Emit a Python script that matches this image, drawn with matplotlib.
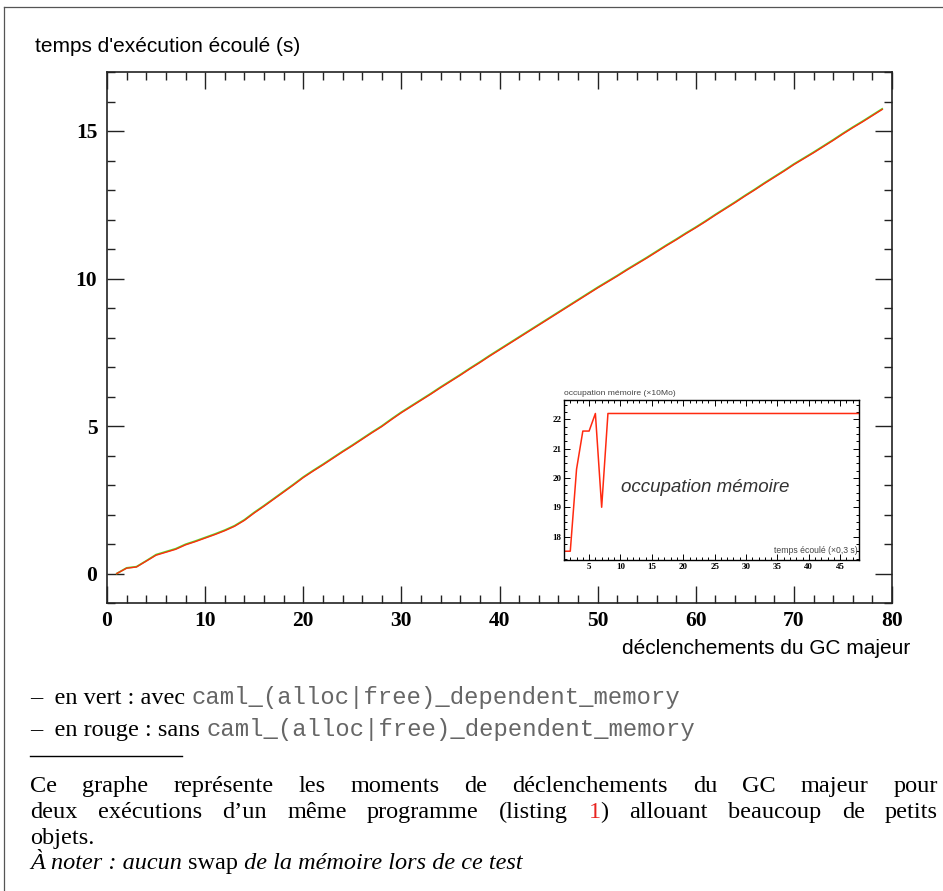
import matplotlib
matplotlib.use("Agg")
import matplotlib.pyplot as plt
from matplotlib.ticker import MultipleLocator
from matplotlib.lines import Line2D

W, H = 943, 891
DPI = 100

# ---------------- data ----------------
gc_index = list(range(1, 80))
time_red = [0.00, 0.18, 0.22, 0.42, 0.62, 0.72, 0.82, 0.97, 1.08, 1.20,
            1.32, 1.45, 1.60, 1.80, 2.05, 2.28, 2.52, 2.76, 3.00, 3.25,
            3.47, 3.68, 3.90, 4.12, 4.33, 4.55, 4.77, 4.98, 5.22, 5.45,
            5.66, 5.87, 6.08, 6.30, 6.51, 6.72, 6.94, 7.15, 7.37, 7.58,
            7.79, 8.00, 8.21, 8.42, 8.63, 8.84, 9.05, 9.26, 9.47, 9.68,
            9.88, 10.08, 10.29, 10.49, 10.69, 10.90, 11.11, 11.31, 11.52, 11.72,
            11.93, 12.15, 12.36, 12.57, 12.79, 13.00, 13.22, 13.43, 13.64, 13.86,
            14.06, 14.26, 14.47, 14.68, 14.90, 15.11, 15.31, 15.52, 15.73]
time_green = [0.00, 0.19, 0.23, 0.43, 0.64, 0.74, 0.84, 0.99, 1.10, 1.22,
              1.34, 1.47, 1.62, 1.82, 2.07, 2.30, 2.54, 2.78, 3.02, 3.27,
              3.49, 3.70, 3.92, 4.14, 4.35, 4.57, 4.79, 5.00, 5.24, 5.47,
              5.68, 5.89, 6.10, 6.32, 6.53, 6.74, 6.96, 7.17, 7.39, 7.60,
              7.81, 8.02, 8.23, 8.44, 8.65, 8.86, 9.07, 9.28, 9.49, 9.70,
              9.90, 10.10, 10.31, 10.51, 10.71, 10.92, 11.13, 11.33, 11.54, 11.74,
              11.95, 12.17, 12.38, 12.59, 12.81, 13.02, 13.24, 13.45, 13.66, 13.88,
              14.08, 14.28, 14.49, 14.70, 14.92, 15.13, 15.33, 15.54, 15.75]

mem_time = list(range(1, 49))
mem_occ = [17.5, 17.5, 20.3, 21.6, 21.6, 22.2, 19.0] + [22.2] * 41

x_ticks = [0, 10, 20, 30, 40, 50, 60, 70, 80]
y_ticks = [0, 5, 10, 15]
inset_x_ticks = [5, 10, 15, 20, 25, 30, 35, 40, 45]
inset_y_ticks = [18, 19, 20, 21, 22]

RED = "#ff2a10"
GREEN = "#55dd2a"


def fx(x):
    return x / W


def fy(y):
    return 1 - y / H


fig = plt.figure(figsize=(W / DPI, H / DPI), dpi=DPI)
fig.patch.set_facecolor("white")

# frame lines of the page box
fig.add_artist(Line2D([fx(4), fx(943)], [fy(7), fy(7)], color="#555555", lw=0.9))
fig.add_artist(Line2D([fx(4), fx(4)], [fy(7), fy(891)], color="#555555", lw=0.9))

# ---------------- main axes ----------------
ax = fig.add_axes([fx(107), fy(603), fx(892) - fx(107), fy(72) - fy(603)])
ax.plot(gc_index, time_green, color=GREEN, lw=1.3, zorder=2)
ax.plot(gc_index, time_red, color=RED, lw=1.0, zorder=3)
ax.set_xlim(0, 80)
ax.set_ylim(-1, 17)
ax.set_xticks(x_ticks)
ax.set_yticks(y_ticks)
ax.xaxis.set_minor_locator(MultipleLocator(2))
ax.yaxis.set_minor_locator(MultipleLocator(1))
ax.tick_params(which="both", direction="in", top=True, right=True, width=1.0, color="#222222")
ax.tick_params(which="major", length=12)
ax.tick_params(which="minor", length=6)
ax.tick_params(axis="x", pad=6)
ax.tick_params(axis="y", pad=7)
for lab in ax.get_xticklabels() + ax.get_yticklabels():
    lab.set_fontfamily("Liberation Serif")
    lab.set_fontweight("bold")
    lab.set_fontsize(15.5)
for s in ax.spines.values():
    s.set_linewidth(1.2)
    s.set_color("#222222")

fig.text(fx(35), fy(47), "temps d'exécution écoulé (s)", family="Liberation Sans",
         fontsize=15, ha="left", va="center")
fig.text(fx(910), fy(648), "déclenchements du GC majeur", family="Liberation Sans",
         fontsize=15, ha="right", va="center")

# ---------------- inset ----------------
ins = fig.add_axes([fx(564), fy(560), fx(859) - fx(564), fy(400) - fy(560)])
ins.plot(mem_time, mem_occ, color=RED, lw=1.1)
ins.set_xlim(1, 48)
ins.set_ylim(17.2, 22.66)
ins.set_xticks(inset_x_ticks)
ins.set_yticks(inset_y_ticks)
ins.xaxis.set_minor_locator(MultipleLocator(1))
ins.yaxis.set_minor_locator(MultipleLocator(0.25))
ins.tick_params(which="both", direction="in", top=True, right=True, width=0.7)
ins.tick_params(which="major", length=4)
ins.tick_params(which="minor", length=2)
ins.tick_params(axis="both", pad=2)
for lab in ins.get_xticklabels() + ins.get_yticklabels():
    lab.set_fontfamily("Liberation Serif")
    lab.set_fontweight("bold")
    lab.set_fontsize(6.5)
for s in ins.spines.values():
    s.set_linewidth(1.0)
ins.text(0.0, 1.02, "occupation mémoire (×10Mo)", transform=ins.transAxes,
         family="Liberation Sans", fontsize=6.1, color="#444444", ha="left", va="bottom")
ins.text(0.995, 0.03, "temps écoulé (×0,3 s)", transform=ins.transAxes,
         family="Liberation Sans", fontsize=6.2, color="#444444", ha="right", va="bottom")
ins.text(0.48, 0.45, "occupation mémoire", transform=ins.transAxes,
         family="Liberation Sans", style="italic", fontsize=13.5, color="#333333",
         ha="center", va="center")

# ---------------- text below ----------------
fig.canvas.draw()
renderer = fig.canvas.get_renderer()

SERIF = dict(family="Liberation Serif", fontsize=17.5)
MONO = dict(family="Liberation Mono", fontsize=17.2, color="#666666")
BODY = dict(family="Liberation Serif", fontsize=17.5)
RED_BODY = dict(BODY, color="#e8231f")
IT = dict(family="Liberation Serif", fontsize=17.5, style="italic")
UP = dict(family="Liberation Serif", fontsize=17.5)


def width_of(t, **kw):
    tt = fig.text(0, 0, t, **kw)
    bb = tt.get_window_extent(renderer)
    tt.remove()
    return bb.width


def run(x, y, parts):
    """parts: list of (text, kwargs); placed sequentially on a baseline (px)."""
    for t, kw in parts:
        fig.text(fx(x), fy(y), t, ha="left", va="baseline", **kw)
        x += width_of(t, **kw)
    return x


def justify(y, words, x0=30, x1=938):
    """words: list of lists of (text, kw) segments."""
    ws = [sum(width_of(t, **kw) for t, kw in w) for w in words]
    gap = (x1 - x0 - sum(ws)) / (len(words) - 1)
    x = x0
    for w, wd in zip(words, ws):
        run(x, y, w)
        x += wd + gap


run(30, 704, [("–  en vert : avec ", SERIF), ("caml_(alloc|free)_dependent_memory", MONO)])
run(30, 736, [("–  en rouge : sans ", SERIF), ("caml_(alloc|free)_dependent_memory", MONO)])
fig.add_artist(Line2D([fx(30), fx(182)], [fy(756), fy(756)], color="black", lw=1.0))

line1 = "Ce graphe représente les moments de déclenchements du GC majeur pour".split()
justify(792, [[(w, BODY)] for w in line1])
line2 = [[("deux", BODY)], [("exécutions", BODY)], [("d’un", BODY)], [("même", BODY)],
         [("programme", BODY)], [("(listing", BODY)], [("1", RED_BODY), (")", BODY)],
         [("allouant", BODY)], [("beaucoup", BODY)], [("de", BODY)], [("petits", BODY)]]
justify(818, line2)
run(30, 844, [("objets.", BODY)])
run(30, 869, [("À noter : aucun ", IT), ("swap", UP), (" de la mémoire lors de ce test", IT)])

fig.savefig("out.png", dpi=DPI)
